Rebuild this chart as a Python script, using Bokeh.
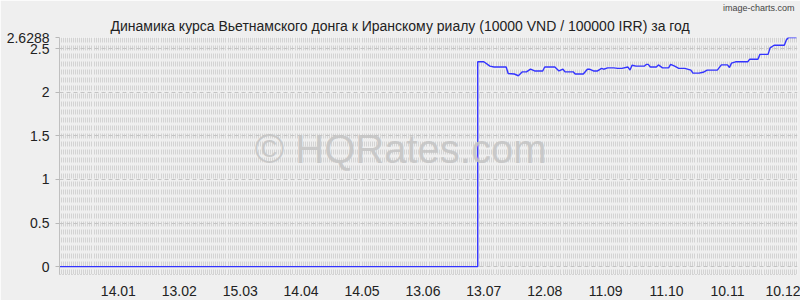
import pandas as pd
from bokeh.plotting import figure
from bokeh.models import ColumnDataSource, Range1d, FixedTicker, Label, Title
from bokeh.embed import file_html
from bokeh.resources import INLINE

# ---- data ----
title_text = "Динамика курса Вьетнамского донга к Иранскому риалу (10000 VND / 100000 IRR) за год"
dates = ["2014-12-16", "2015-07-10", "2015-07-10", "2015-07-13", "2015-07-16", "2015-07-18",
         "2015-07-24", "2015-07-25", "2015-07-28", "2015-07-30", "2015-08-01", "2015-08-03",
         "2015-08-05", "2015-08-07", "2015-08-11", "2015-08-12", "2015-08-17", "2015-08-19",
         "2015-08-21", "2015-08-22", "2015-08-26", "2015-08-27", "2015-08-31", "2015-09-02",
         "2015-09-03", "2015-09-05", "2015-09-07", "2015-09-09", "2015-09-10", "2015-09-12",
         "2015-09-15", "2015-09-17", "2015-09-19", "2015-09-22", "2015-09-23", "2015-09-24",
         "2015-09-26", "2015-09-30", "2015-10-01", "2015-10-02", "2015-10-03", "2015-10-06",
         "2015-10-07", "2015-10-09", "2015-10-12", "2015-10-13", "2015-10-15", "2015-10-17",
         "2015-10-20", "2015-10-23", "2015-10-24", "2015-10-27", "2015-10-29", "2015-10-31",
         "2015-11-05", "2015-11-07", "2015-11-10", "2015-11-11", "2015-11-12", "2015-11-14",
         "2015-11-20", "2015-11-21", "2015-11-25", "2015-11-26", "2015-11-30", "2015-12-01",
         "2015-12-03", "2015-12-08", "2015-12-09", "2015-12-10", "2015-12-14"]
rates = [0, 0, 2.35, 2.35, 2.30, 2.29,
         2.29, 2.215, 2.21, 2.19, 2.235, 2.235,
         2.265, 2.245, 2.245, 2.29, 2.29, 2.245,
         2.265, 2.235, 2.235, 2.21, 2.21, 2.265,
         2.265, 2.245, 2.245, 2.275, 2.265, 2.28,
         2.28, 2.275, 2.275, 2.29, 2.255, 2.31,
         2.30, 2.30, 2.32, 2.32, 2.29, 2.29,
         2.315, 2.28, 2.28, 2.32, 2.30, 2.275,
         2.275, 2.255, 2.22, 2.22, 2.23, 2.255,
         2.255, 2.315, 2.315, 2.285, 2.335, 2.35,
         2.35, 2.38, 2.38, 2.435, 2.435, 2.51,
         2.54, 2.54, 2.60, 2.6288, 2.6288]
x_tick_dates = ["2015-01-14", "2015-02-13", "2015-03-15", "2015-04-14", "2015-05-14", "2015-06-13",
                "2015-07-13", "2015-08-12", "2015-09-11", "2015-10-11", "2015-11-10", "2015-12-10"]
x_tick_labels = ["14.01", "13.02", "15.03", "14.04", "14.05", "13.06",
                 "13.07", "12.08", "11.09", "11.10", "10.11", "10.12"]
y_ticks = [0, 0.5, 1, 1.5, 2, 2.5, 2.6288]
y_labels = ["0", "0.5", "1", "1.5", "2", "2.5", "2.6288"]

BG = "#efefef"
FONT = "Liberation Sans"

def ms(d):
    return int(pd.Timestamp(d).value // 10**6)

x_start = pd.Timestamp("2014-12-16")
x_end = pd.Timestamp("2015-12-14 12:00")

src = ColumnDataSource(dict(x=pd.to_datetime(dates), y=rates))

p = figure(width=800, height=300, x_axis_type="datetime",
           x_range=Range1d(x_start, x_end), y_range=Range1d(-0.09, 2.6288),
           output_backend="svg", toolbar_location=None,
           min_border_left=59, min_border_right=3, min_border_top=36, min_border_bottom=26,
           background_fill_color=BG, border_fill_color=BG, outline_line_color=None)

# grid texture
day_ticks = [ms(d) for d in pd.date_range(x_start, x_end, freq="D")]
p.xgrid.ticker = FixedTicker(ticks=day_ticks)
p.xgrid.grid_line_color = "#d3d3d3"
p.xgrid.grid_line_dash = "5 3"
p.xgrid.grid_line_width = 1
p.ygrid.ticker = FixedTicker(ticks=y_ticks)
p.ygrid.grid_line_color = "#c4c4c4"
p.ygrid.grid_line_dash = "4 3"

# axes
p.xaxis.ticker = FixedTicker(ticks=[ms(d) for d in x_tick_dates])
p.xaxis.major_label_overrides = {ms(d): l for d, l in zip(x_tick_dates, x_tick_labels)}
p.xaxis.major_tick_line_color = None
p.xaxis.minor_tick_line_color = None
p.xaxis.axis_line_color = "#b8b8b8"
p.xaxis.axis_line_dash = "1 2"
p.xaxis.major_label_standoff = 5
p.yaxis.ticker = FixedTicker(ticks=y_ticks)
p.yaxis.major_label_overrides = {t: l for t, l in zip(y_ticks, y_labels)}
p.yaxis.minor_tick_line_color = None
p.yaxis.major_tick_out = 4
p.yaxis.major_tick_in = 0
p.yaxis.major_tick_line_color = "#b8b8b8"
p.yaxis.axis_line_color = "#c0c0c0"
p.yaxis.major_label_standoff = 6
for ax in (p.xaxis, p.yaxis):
    ax.major_label_text_font = FONT
    ax.major_label_text_font_size = "14px"
    ax.major_label_text_color = "#222222"

# watermark
mid = pd.Timestamp("2015-06-02")
p.add_layout(Label(x=mid, y=1.35, text="© HQRates.com", text_align="center", text_baseline="middle",
                   text_font=FONT, text_font_size="40px", text_color="#c4c4c4", text_alpha=0.85))

p.line("x", "y", source=src, line_color="#3333ff", line_width=1.4)

# title and credit
p.add_layout(Title(text=title_text, align="left", offset=51, standoff=7,
                   text_font=FONT, text_font_size="14px", text_font_style="normal",
                   text_color="#222222"), "above")
p.add_layout(Title(text="image-charts.com", align="right", offset=3, standoff=0,
                   text_font=FONT, text_font_size="9px", text_font_style="normal",
                   text_color="#444444"), "above")

open("out.html", "w").write(file_html(p, INLINE))
